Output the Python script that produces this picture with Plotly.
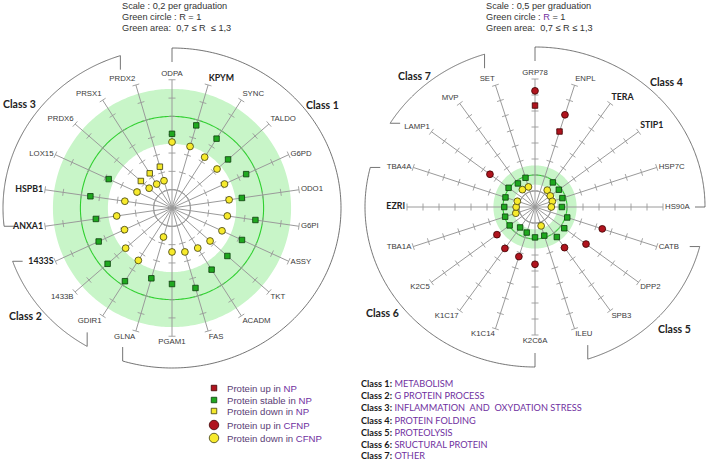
import numpy as np
import plotly.graph_objects as go

# ---------------- data ----------------
left_categories = ["ODPA", "KPYM", "SYNC", "TALDO", "G6PD", "ODO1", "G6PI", "ASSY", "TKT", "ACADM", "FAS",
                   "PGAM1", "GLNA", "GDIR1", "1433B", "1433S", "ANXA1", "HSPB1", "LOX15", "PRDX6", "PRSX1", "PRDX2"]
left_bold = ["KPYM", "1433S", "ANXA1", "HSPB1"]
left_np_ratio = [0.81, 0.94, 0.90, 0.81, 0.89, 0.77, 0.92, 0.84, 0.80, 0.80, 0.91,
                 0.83, 0.80, 0.95, 0.93, 0.88, 0.84, 0.90, 0.76, 0.45, 0.45, 0.47]
left_np_status = ["stable", "stable", "stable", "stable", "stable", "stable", "stable", "stable", "stable", "stable", "stable",
                  "stable", "stable", "stable", "stable", "stable", "stable", "stable", "stable", "down", "down", "down"]
left_cfnp_ratio = [0.72, 0.70, 0.66, 0.65, 0.63, 0.63, 0.61, 0.60, 0.55, 0.52, 0.50,
                   0.48, 0.33, 0.68, 0.67, 0.57, 0.61, 0.52, 0.42, 0.33, 0.31, 0.31]
left_cfnp_status = ["down"] * 22
left_classes = [
    ["ODPA", "KPYM", "SYNC", "TALDO", "G6PD", "ODO1", "G6PI", "ASSY", "TKT", "ACADM", "FAS", "PGAM1", "GLNA"],
    ["GDIR1", "1433B", "1433S"],
    ["ANXA1", "HSPB1", "LOX15", "PRDX6", "PRSX1", "PRDX2"],
]

right_categories = ["GRP78", "ENPL", "TERA", "STIP1", "HSP7C", "HS90A", "CATB", "DPP2", "SPB3", "ILEU",
                    "K2C6A", "K1C14", "K1C17", "K2C5", "TBA1A", "EZRI", "TBA4A", "LAMP1", "MVP", "SET"]
right_bold = ["TERA", "STIP1", "EZRI"]
right_np_ratio = [3.17, 2.48, 0.95, 0.92, 0.90, 0.84, 1.06, 1.13, 1.16, 0.94,
                  0.95, 0.84, 0.79, 0.98, 0.98, 0.96, 0.97, 1.02, 0.91, 0.96]
right_np_status = ["up", "up", "stable", "stable", "stable", "stable", "stable", "stable", "stable", "stable",
                   "stable", "stable", "stable", "stable", "stable", "stable", "stable", "stable", "stable", "stable"]
right_cfnp_ratio = [3.63, 3.03, 0.65, 0.59, 0.57, 0.51, 2.21, 1.97, 1.57, 0.62,
                    1.79, 1.63, 1.60, 1.47, 0.63, 0.59, 0.58, 1.74, 0.67, 0.66]
right_cfnp_status = ["up", "up", "down", "down", "down", "down", "up", "up", "up", "down",
                     "up", "up", "up", "up", "down", "down", "down", "up", "down", "down"]
right_classes = [
    ["GRP78", "ENPL", "TERA", "STIP1", "HSP7C", "HS90A"],
    ["CATB", "DPP2", "SPB3", "ILEU"],
    ["K2C6A", "K1C14", "K1C17", "K2C5", "TBA1A", "EZRI", "TBA4A"],
    ["LAMP1", "MVP", "SET"],
]

class_names = ["METABOLISM", "G PROTEIN PROCESS", "INFLAMMATION  AND  OXYDATION STRESS", "PROTEIN FOLDING",
               "PROTEOLYSIS", "SRUCTURAL PROTEIN", "OTHER"]
legend_labels = [("Protein up in ", "NP"), ("Protein stable in ", "NP"), ("Protein down in ", "NP"),
                 ("Protein up in ", "CFNP"), ("Protein down in ", "CFNP")]
left_header = ["Scale : 0,2 per graduation", "Green circle : R = 1", "Green area:  0,7 \u2264 R  \u2264 1,3"]
right_header = ["Scale : 0,5 per graduation", "Green circle : <span style='color:#7030A0'>R</span> = 1",
                "Green area:  0,7 \u2264 R \u2264 1,3"]
band_low, band_high, green_circle = 0.7, 1.3, 1.0

# ---------------- styling / geometry ----------------
W, H = 708, 463
POLAR_PX = 172
NARROW = "Liberation Sans Narrow, Arial Narrow, Liberation Sans, sans-serif"
LABEL_FONT = "Liberation Sans, Arial, sans-serif"
BOLD_FONT = "Lato, Liberation Sans, sans-serif"
PURPLE = "#7030A0"

STYLES = {
    ("np", "up"): dict(symbol="square", size=5.5, color="#B0141E", line=dict(color="#3d0000", width=0.8)),
    ("np", "stable"): dict(symbol="square", size=5.5, color="#1FA81F", line=dict(color="#0b3d0b", width=0.8)),
    ("np", "down"): dict(symbol="square", size=5.5, color="#F4E82A", line=dict(color="#3d3d10", width=0.8)),
    ("cf", "up"): dict(symbol="circle", size=6.8, color="#B0141E", line=dict(color="#3d0000", width=0.8)),
    ("cf", "down"): dict(symbol="circle", size=6.8, color="#F7EA2C", line=dict(color="#3d3d10", width=0.8)),
}

geom_left = dict(cx=172, cy=208, unit=91.6, r_axis=1.4, step=0.2, inner=0.2, a_px=169, b_px=160,
                 subplot="polar")
geom_right = dict(cx=535, cy=207, unit=32.0, r_axis=4.0, step=0.5, inner=0.5, a_px=170, b_px=160,
                  subplot="polar2")


def to_polar(x, y):
    x = np.asarray(x, dtype=float)
    y = np.asarray(y, dtype=float)
    return np.hypot(x, y), np.degrees(np.arctan2(x, y)) % 360


def text_position(a):
    if a < 12 or a > 348:
        return "top center"
    if a < 62:
        return "top right"
    if a < 118:
        return "middle right"
    if a < 168:
        return "bottom right"
    if a < 192:
        return "bottom center"
    if a < 242:
        return "bottom left"
    if a < 298:
        return "middle left"
    return "top left"


def add_chart(fig, cats, bold, np_vals, np_stat, cf_vals, cf_stat, classes, g):
    n = len(cats)
    unit = g["unit"]
    sp = g["subplot"]
    ang = np.arange(n) * 360.0 / n
    full = np.linspace(0, 360, 361)

    # green band (annulus)
    r_ring = np.concatenate([np.full(361, band_high), np.full(361, band_low)])
    t_ring = np.concatenate([full, full[::-1]])
    fig.add_trace(go.Scatterpolar(r=r_ring, theta=t_ring, mode="lines", fill="toself",
                                  fillcolor="#C8F5C8", line=dict(width=0), subplot=sp,
                                  hoverinfo="skip", showlegend=False))
    # green circle R=1
    fig.add_trace(go.Scatterpolar(r=np.full(361, green_circle), theta=full, mode="lines",
                                  line=dict(color="#30D030", width=1.1), subplot=sp,
                                  hoverinfo="skip", showlegend=False))
    # inner grey circle
    fig.add_trace(go.Scatterpolar(r=np.full(361, g["inner"]), theta=full, mode="lines",
                                  line=dict(color="#8c8c8c", width=0.9), subplot=sp,
                                  hoverinfo="skip", showlegend=False))
    # spokes
    rs, ts = [], []
    for a in ang:
        rs += [0, g["r_axis"], None]
        ts += [a, a, None]
    fig.add_trace(go.Scatterpolar(r=rs, theta=ts, mode="lines", line=dict(color="#9a9a9a", width=1),
                                  subplot=sp, hoverinfo="skip", showlegend=False))
    # graduation ticks
    h = 3.5 / unit
    nsteps = int(round(g["r_axis"] / g["step"]))
    rs, ts = [], []
    for a in ang:
        ar = np.radians(a)
        for k in range(1, nsteps + 1):
            rr = k * g["step"]
            x0, y0 = rr * np.sin(ar), rr * np.cos(ar)
            xs = [x0 - h * np.cos(ar), x0 + h * np.cos(ar)]
            ys = [y0 + h * np.sin(ar), y0 - h * np.sin(ar)]
            pr, pt = to_polar(xs, ys)
            rs += list(pr) + [None]
            ts += list(pt) + [None]
    fig.add_trace(go.Scatterpolar(r=rs, theta=ts, mode="lines", line=dict(color="#9a9a9a", width=0.9),
                                  subplot=sp, hoverinfo="skip", showlegend=False))

    # labels
    label_center = {}
    for name, a in zip(cats, ang):
        tp = text_position(a)
        isb = name in bold
        r_lab = g["r_axis"] + 2.0 / unit
        ar = np.radians(a)
        ex, ey = g["r_axis"] * np.sin(ar), g["r_axis"] * np.cos(ar)
        vert, horiz = tp.split()
        w = len(name) * (5.3 if isb else 4.6)
        off, hh = 4.0 / unit, 4.5 / unit
        cy = ey + (off + hh) if vert == "top" else (ey - (off + hh) if vert == "bottom" else ey)
        cx = ex + (off + w / 2 / unit) if horiz == "right" else (ex - (off + w / 2 / unit) if horiz == "left" else ex)
        label_center[name] = (cx, cy, a)
        fig.add_trace(go.Scatterpolar(
            r=[r_lab], theta=[a], mode="text", text=["<b>%s</b>" % name if isb else name],
            textposition=tp, cliponaxis=False, subplot=sp, hoverinfo="skip", showlegend=False,
            textfont=dict(family=BOLD_FONT if isb else LABEL_FONT, size=8.8 if isb else 7.8,
                          color="#222222" if isb else "#3a3a3a")))

    # class brackets
    A, B = g["a_px"] / unit, g["b_px"] / unit
    Lv, Lh = 14.0 / unit, 10.0 / unit

    def hook(name):
        cx, cy, a = label_center[name]
        if abs(np.sin(np.radians(a))) > 0.7:  # horizontal hook
            c = np.clip(cy / B, -1, 1)
            s = np.sign(cx) * np.sqrt(1 - c * c)
            P = (A * s, B * c)
            Q = (A * s - np.sign(cx) * Lh, B * c)
        else:
            s = np.clip(cx / A, -1, 1)
            sg = 1.0 if cy >= 0 else -1.0
            c = sg * np.sqrt(1 - s * s)
            P = (A * s, B * c)
            Q = (A * s, B * c - sg * Lv)
        phi = np.degrees(np.arctan2(s, c)) % 360
        return phi, P, Q

    rs, ts = [], []
    for members in classes:
        p1, P1, Q1 = hook(members[0])
        p2, P2, Q2 = hook(members[-1])
        if p2 <= p1:
            p2 += 360
        phis = np.radians(np.linspace(p1, p2, 200))
        xs = [Q1[0], P1[0]] + list(A * np.sin(phis)) + [P2[0], Q2[0]]
        ys = [Q1[1], P1[1]] + list(B * np.cos(phis)) + [P2[1], Q2[1]]
        pr, pt = to_polar(xs, ys)
        rs += list(pr) + [None]
        ts += list(pt) + [None]
    fig.add_trace(go.Scatterpolar(r=rs, theta=ts, mode="lines", line=dict(color="#505050", width=0.8),
                                  subplot=sp, hoverinfo="skip", showlegend=False))

    # markers
    for kind, vals, stats in (("np", np_vals, np_stat), ("cf", cf_vals, cf_stat)):
        for status in ("up", "stable", "down"):
            idx = [i for i, s in enumerate(stats) if s == status]
            if not idx:
                continue
            st = STYLES[(kind, status)]
            fig.add_trace(go.Scatterpolar(
                r=[vals[i] for i in idx], theta=[ang[i] for i in idx], mode="markers",
                marker=dict(symbol=st["symbol"], size=st["size"], color=st["color"], line=st["line"]),
                text=[cats[i] for i in idx], subplot=sp, cliponaxis=False, showlegend=False,
                hovertemplate="%{text}: %{r}<extra></extra>"))


fig = go.Figure()
add_chart(fig, left_categories, left_bold, left_np_ratio, left_np_status, left_cfnp_ratio, left_cfnp_status,
          left_classes, geom_left)
add_chart(fig, right_categories, right_bold, right_np_ratio, right_np_status, right_cfnp_ratio, right_cfnp_status,
          right_classes, geom_right)


def polar_layout(g):
    x0 = (g["cx"] - POLAR_PX) / W
    x1 = (g["cx"] + POLAR_PX) / W
    yb = (H - g["cy"] - POLAR_PX) / H
    yt = (H - g["cy"] + POLAR_PX) / H
    return dict(domain=dict(x=[x0, x1], y=[yb, yt]), bgcolor="rgba(0,0,0,0)",
                radialaxis=dict(visible=False, range=[0, POLAR_PX / g["unit"]]),
                angularaxis=dict(visible=False, rotation=90, direction="clockwise", thetaunit="degrees"))


# manual legend (symbols on a hidden pixel-scaled axis)
legend_keys = [("np", "up"), ("np", "stable"), ("np", "down"), ("cf", "up"), ("cf", "down")]
legend_y = [388, 400, 411, 425, 438]
for key, yy in zip(legend_keys, legend_y):
    st = STYLES[key]
    fig.add_trace(go.Scatter(x=[214], y=[yy], mode="markers", xaxis="x", yaxis="y", showlegend=False,
                             hoverinfo="skip",
                             marker=dict(symbol=st["symbol"], size=5.5 if st["symbol"] == "square" else 9.5,
                                         color=st["color"], line=st["line"])))

annotations = []
for (txt, grp), yy in zip(legend_labels, legend_y):
    annotations.append(dict(x=225, y=yy, xref="x", yref="y", xanchor="left", yanchor="middle", showarrow=False,
                            text="<span style='color:#5A3D75'>%s</span><span style='color:%s'>%s</span>" % (txt, PURPLE, grp),
                            font=dict(family=NARROW, size=9.6)))
class_y = [383, 395, 407, 420, 432, 444, 455]
for i, (nm, yy) in enumerate(zip(class_names, class_y)):
    annotations.append(dict(x=359, y=yy, xref="x", yref="y", xanchor="left", yanchor="middle", showarrow=False,
                            text="<b>Class %d:</b><span style='color:%s'> %s</span>" % (i + 1, PURPLE, nm),
                            font=dict(family="Lato, Liberation Sans, sans-serif", size=9.2, color="#1a1a1a")))
for lines, x0 in ((left_header, 120), (right_header, 484)):
    for j, t in enumerate(lines):
        annotations.append(dict(x=x0, y=6 + 11.2 * j, xref="x", yref="y", xanchor="left", yanchor="middle",
                                showarrow=False, text=t, font=dict(family=NARROW, size=9.2, color="#333333")))
class_titles = [("Class 1", 322, 105), ("Class 2", 25, 316), ("Class 3", 19, 104),
                ("Class 4", 666, 82), ("Class 5", 674, 329), ("Class 6", 382, 313), ("Class 7", 414, 76)]
for t, xx, yy in class_titles:
    annotations.append(dict(x=xx, y=yy, xref="x", yref="y", xanchor="center", yanchor="middle", showarrow=False,
                            text="<b>%s</b>" % t, font=dict(family=BOLD_FONT, size=10.5, color="#222222")))

fig.update_layout(
    width=W, height=H, margin=dict(l=0, r=0, t=0, b=0),
    paper_bgcolor="white", plot_bgcolor="rgba(0,0,0,0)", showlegend=False,
    polar=polar_layout(geom_left), polar2=polar_layout(geom_right),
    xaxis=dict(domain=[0, 1], range=[0, W], visible=False, fixedrange=True),
    yaxis=dict(domain=[0, 1], range=[H, 0], visible=False, fixedrange=True),
    annotations=annotations,
)

fig.write_html("out.html", config={"displayModeBar": False},
               post_script="document.body.style.margin='0px';document.body.style.overflow='hidden';")
